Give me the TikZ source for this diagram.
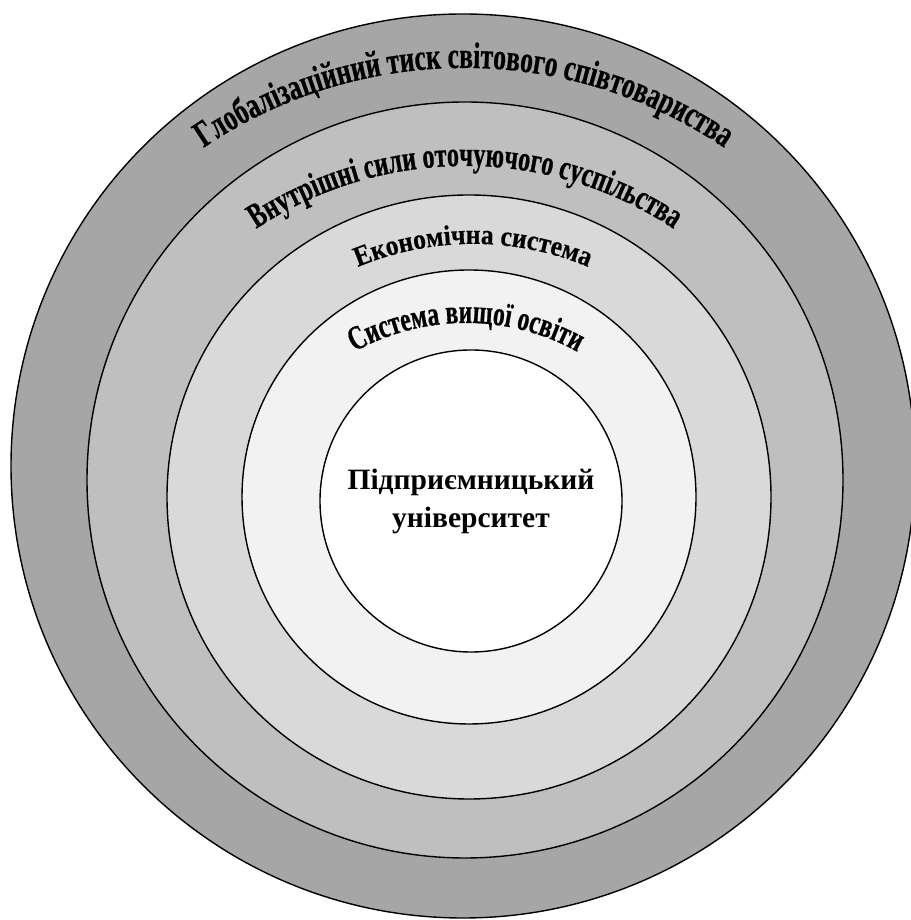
\documentclass[tikz,border=0pt]{standalone}
\usepackage{fontspec}
\setmainfont{Liberation Serif}
\newfontfamily\ringwide[FakeStretch=0.9, FakeBold=0.4]{Liberation Serif}
\newfontfamily\ringnarrow[FakeStretch=0.69, FakeBold=0.6]{Liberation Serif}
\usepackage{xcolor}
\usetikzlibrary{
		calc,
		decorations.text
	}
\definecolor{ringA}{HTML}{A6A6A6}
\definecolor{ringB}{HTML}{BFBFBF}
\definecolor{ringC}{HTML}{D9D9D9}
\definecolor{ringD}{HTML}{F2F2F2}
\newcommand{\widefont}[1]{\ringwide\bfseries\fontsize{#1}{40}\selectfont}
\newcommand{\narrowfont}[1]{\ringnarrow\bfseries\fontsize{#1}{40}\selectfont}
\tikzset{
		ring/.style={draw=black, line width=1.4pt},
		arctext/.style={decorate, decoration={text along path, text align=center, text={#1}}}
	}

\begin{document}
\begin{tikzpicture}[x=1pt,y=1pt]
          \useasboundingbox (0,0) rectangle (910,920);
          \coordinate (O1) at (463,454);
          \coordinate (O2) at (465,440);
          \coordinate (O3) at (469,423);
          \coordinate (O4) at (469,423);
          \coordinate (O5) at (471,419);
          \coordinate (T1) at (464,388);
          \coordinate (T2) at (465,376);
          \coordinate (T3) at (473,376);
          \coordinate (T4) at (466,367);

          \draw[ring, fill=ringA] (O1) circle[radius=452pt];
          \draw[ring, fill=ringB] (O2) circle[radius=378pt];
          \draw[ring, fill=ringC] (O3) circle[radius=302pt];
          \draw[ring, fill=ringD] (O4) circle[radius=227pt];
          \draw[ring, fill=white] (O5) circle[radius=151pt];

          \path[arctext={|\narrowfont{37}|Глобалізаційний тиск світового співтовариства}]
          ($(T1)+(150:464pt)$) arc[start angle=150, end angle=30, radius=464pt];
          \path[arctext={|\narrowfont{35}|Внутрішні сили оточуючого суспільства}]
          ($(T2)+(150:378pt)$) arc[start angle=150, end angle=30, radius=378pt];
          \path[arctext={|\widefont{28.4}|Економічна система}]
          ($(T3)+(150:300pt)$) arc[start angle=150, end angle=30, radius=300pt];
          \path[arctext={|\narrowfont{34}|Система вищої освіти}]
          ($(T4)+(150:230pt)$) arc[start angle=150, end angle=30, radius=230pt];

          \node[align=center, font=\bfseries\fontsize{29.5}{38}\selectfont] (uni) at (O5)
          {Підприємницький\\університет};

\end{tikzpicture}
\end{document}
